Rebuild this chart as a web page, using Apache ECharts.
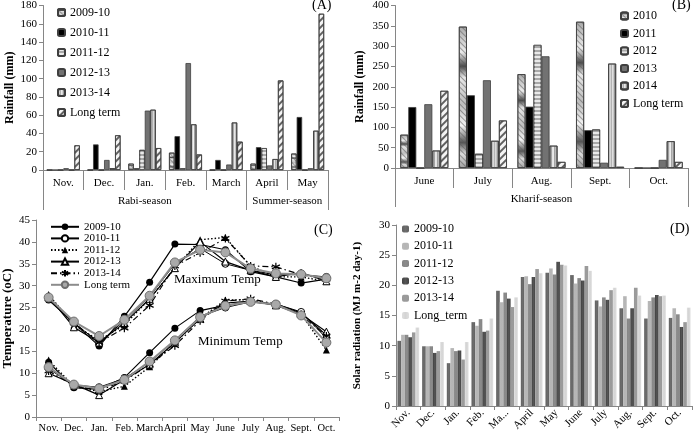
<!DOCTYPE html>
<html><head><meta charset="utf-8">
<script src="https://cdn.jsdelivr.net/npm/echarts@6/dist/echarts.min.js"></script>
<style>html,body{margin:0;padding:0;background:#fff}#c{width:694px;height:434px}</style>
</head><body><div id="c"></div><script>
// ---------- Panel A: rainfall, Rabi & summer ----------
const monthsA = ['Nov.','Dec.','Jan.','Feb.','March','April','May'];
const seasonsA = ['Rabi-season','Summer-season'];
const seasonCentersA = [2.5, 6];
const seasonEdgesA = [0, 5, 7];
const yearsA = ['2009-10','2010-11','2011-12','2012-13','2013-14','Long term'];
const rainA_0910 = [0, 0, 7, 19, 0, 7, 18];
const rainA_1011 = [0, 28, 2, 37, 11, 25, 58];
const rainA_1112 = [0, 0, 22, 2, 0, 24, 0];
const rainA_1213 = [2, 11, 65, 117, 6, 5, 2];
const rainA_1314 = [0, 2, 66, 50, 52, 12, 43];
const rainA_LT   = [27, 38, 24, 17, 31, 98, 171];

// ---------- Panel B: rainfall, Kharif ----------
const monthsB = ['June','July','Aug.','Sept.','Oct.'];
const seasonsB = ['Kharif-season'];
const seasonCentersB = [2.5];
const seasonEdgesB = [0, 5];
const yearsB = ['2010','2011','2012','2013','2014','Long term'];
const rainB_2010 = [82, 348, 231, 360, 0];
const rainB_2011 = [150, 179, 151, 93, 0];
const rainB_2012 = [0, 35, 303, 95, 0];
const rainB_2013 = [157, 216, 275, 13, 20];
const rainB_2014 = [43, 67, 55, 257, 66];
const rainB_LT   = [190, 117, 15, 3, 15];

// ---------- Panel C: temperature ----------
const monthsC = ['Nov.','Dec.','Jan.','Feb.','March','April','May','June','July','Aug.','Sept.','Oct.'];
const yearsC = ['2009-10','2010-11','2011-12','2012-13','2013-14','Long term'];
const maxT_0910 = [26.7, 21.5, 16.2, 23.0, 30.8, 39.5, 39.4, 38.2, 33.2, 32.0, 30.6, 31.5];
const maxT_1011 = [27.0, 21.5, 17.0, 22.0, 27.5, 35.0, 38.5, 35.0, 33.5, 32.5, 32.5, 32.0];
const maxT_1112 = [28.0, 21.0, 17.5, 21.0, 27.0, 34.0, 40.5, 41.0, 34.5, 32.0, 32.0, 31.0];
const maxT_1213 = [27.5, 20.5, 17.0, 21.5, 27.0, 34.0, 40.0, 35.5, 33.5, 32.0, 33.0, 31.0];
const maxT_1314 = [27.0, 21.5, 17.0, 20.3, 25.5, 34.5, 37.5, 40.8, 34.5, 34.3, 32.5, 31.5];
const maxT_LT   = [27.3, 21.8, 18.5, 22.2, 27.7, 35.3, 38.2, 37.6, 33.9, 32.8, 32.6, 31.7];
const minT_0910 = [12.5, 6.7, 6.3, 9.0, 14.7, 20.3, 24.3, 25.5, 26.3, 25.8, 23.8, 18.7];
const minT_1011 = [11.0, 7.3, 6.8, 8.8, 12.5, 17.5, 23.0, 25.0, 26.3, 25.8, 24.0, 18.0];
const minT_1112 = [13.0, 7.0, 5.8, 7.0, 11.5, 17.0, 22.5, 26.7, 26.8, 25.5, 23.5, 15.3];
const minT_1213 = [10.0, 7.5, 5.0, 8.5, 12.0, 17.0, 22.5, 26.0, 26.5, 25.5, 23.5, 19.5];
const minT_1314 = [10.5, 7.2, 6.0, 8.3, 12.0, 16.3, 22.0, 26.5, 27.0, 25.8, 23.3, 18.5];
const minT_LT   = [11.4, 7.4, 6.5, 8.5, 12.7, 17.5, 22.8, 25.4, 26.3, 25.7, 23.2, 17.0];

// ---------- Panel D: solar radiation ----------
const monthsD = ['Nov.','Dec.','Jan.','Feb.','March','April','May','June','July','Aug.','Sept.','Oct.'];
const yearsD = ['2009-10','2010-11','2011-12','2012-13','2013-14','Long_term'];
const srad_0910 = [10.8, 9.9, 7.1, 13.9, 19.1, 21.4, 22.1, 21.7, 17.5, 16.2, 14.5, 14.6];
const srad_1011 = [11.8, 9.9, 9.6, 13.3, 17.2, 21.5, 22.8, 20.3, 16.5, 18.2, 17.4, 16.2];
const srad_1112 = [11.8, 9.9, 9.1, 14.4, 18.8, 20.2, 21.8, 21.2, 18.0, 14.5, 18.0, 15.2];
const srad_1213 = [11.4, 8.8, 9.2, 12.3, 17.8, 21.4, 23.9, 20.8, 17.6, 16.2, 18.4, 13.1];
const srad_1314 = [12.2, 9.1, 7.7, 12.5, 16.4, 22.7, 23.4, 23.2, 19.2, 19.6, 18.2, 13.9];
const srad_LT   = [13.0, 10.6, 10.6, 14.5, 18.0, 22.0, 23.3, 22.4, 19.6, 18.3, 18.3, 16.3];

const FONT = 'Liberation Serif';
const AX = '#868686';
const G = echarts.graphic;

function yAx(gi, max, interval, name, nameGap, nameSize) {
  return {gridIndex: gi, type: 'value', min: 0, max: max, interval: interval,
    name: name, nameLocation: 'middle', nameGap: nameGap,
    nameTextStyle: {fontFamily: FONT, fontWeight: 'bold', fontSize: nameSize, color: '#000'},
    axisLine: {show: true, lineStyle: {color: AX}},
    axisTick: {show: true, length: 4, lineStyle: {color: AX}},
    axisLabel: {fontFamily: FONT, fontSize: 11, color: '#000', margin: 6},
    splitLine: {show: false}};
}
function catAx(gi, data, tickLen, extra) {
  return Object.assign({gridIndex: gi, type: 'category', data: data, boundaryGap: true,
    axisLine: {show: true, lineStyle: {color: AX}},
    axisTick: {show: true, length: tickLen, interval: 0, lineStyle: {color: AX}},
    axisLabel: {fontFamily: FONT, fontSize: 11, color: '#000', margin: 8, interval: 0},
    splitLine: {show: false}}, extra || {});
}
function seasonAx(gi, n, edges, centers, names, off, tickLen) {
  return {gridIndex: gi, type: 'value', position: 'bottom', offset: off, min: 0, max: n,
    axisLine: {show: false}, splitLine: {show: false},
    axisTick: {show: true, length: tickLen, customValues: edges, lineStyle: {color: AX}},
    axisLabel: {show: true, customValues: centers, fontFamily: FONT, fontSize: 11, color: '#000', margin: 6,
      formatter: function (v) { const i = centers.indexOf(v); return i >= 0 ? names[i] : ''; }}};
}

function decal(color, rot, gap, w) {
  return {symbol: 'rect', symbolSize: 1, color: color, dashArrayX: [1, 0], dashArrayY: [w || 1.5, gap || 3], rotation: rot};
}
const metalV = new G.LinearGradient(0, 0, 1, 0, [
  {offset: 0, color: '#9a9a9a'}, {offset: 0.45, color: '#f2f2f2'}, {offset: 1, color: '#8a8a8a'}]);
const metalTex = new G.LinearGradient(0, 0, 0, 1, [
  {offset: 0, color: '#a9a9a9'}, {offset: 0.18, color: '#ececec'}, {offset: 0.28, color: '#4a4a4a'},
  {offset: 0.36, color: '#e6e6e6'}, {offset: 0.55, color: '#bdbdbd'}, {offset: 0.7, color: '#f4f4f4'},
  {offset: 0.82, color: '#555'}, {offset: 0.9, color: '#dcdcdc'}, {offset: 1, color: '#a0a0a0'}]);

const BORDER = {borderColor: '#3f3f3f', borderWidth: 0.8};
const stylesAB = [
  Object.assign({color: metalTex, decal: decal('rgba(90,90,90,0.55)', Math.PI / 4, 3, 1)}, BORDER),
  Object.assign({color: '#000'}, BORDER),
  Object.assign({color: '#a8a8a8', decal: decal('rgba(255,255,255,0.75)', 0, 2, 1.2)}, BORDER),
  Object.assign({color: '#727272'}, BORDER),
  Object.assign({color: metalV, decal: decal('rgba(120,120,120,0.5)', Math.PI / 2, 2, 1)}, BORDER),
  Object.assign({color: '#f4f4f4', decal: decal('rgba(60,60,60,0.8)', -Math.PI / 4, 3, 1.2)}, BORDER)
];

const series = [];
function addBars(prefix, names, arrays, xi, yi, gap, styles) {
  names.forEach(function (n, i) {
    series.push({name: prefix + '|' + n, type: 'bar', xAxisIndex: xi, yAxisIndex: yi, data: arrays[i],
      barGap: '0%', barCategoryGap: gap, itemStyle: styles[i], emphasis: {disabled: true}});
  });
}
addBars('A', yearsA, [rainA_0910, rainA_1011, rainA_1112, rainA_1213, rainA_1314, rainA_LT], 0, 0, '19%', stylesAB);
addBars('B', yearsB, [rainB_2010, rainB_2011, rainB_2012, rainB_2013, rainB_2014, rainB_LT], 2, 1, '18%', stylesAB);

const stylesD = ['#5a5a5a', '#ababab', '#7c7c7c', '#3e3e3e', '#8e8e8e', '#cfcfcf'].map(function (c) {
  return {color: new G.LinearGradient(0, 0, 1, 0, [
    {offset: 0, color: echarts.color.lift(c, -0.08)}, {offset: 0.5, color: echarts.color.lift(c, 0.12)},
    {offset: 1, color: echarts.color.lift(c, -0.08)}])};
});
addBars('D', yearsD, [srad_0910, srad_1011, srad_1112, srad_1213, srad_1314, srad_LT], 5, 3, '12%', stylesD);

const ASTER = 'path://M5,0L5,10M0.67,2.5L9.33,7.5M0.67,7.5L9.33,2.5';
const lineStylesC = [
  {line: {color: '#000', width: 1.2, type: 'solid'}, symbol: 'circle', size: 7, item: {color: '#000'}},
  {line: {color: '#000', width: 1, type: 'solid'}, symbol: 'circle', size: 7, item: {color: '#fff', borderColor: '#000', borderWidth: 1}},
  {line: {color: '#000', width: 1.4, type: [1.5, 2]}, symbol: 'triangle', size: 7, item: {color: '#000'}},
  {line: {color: '#000', width: 1.2, type: 'solid'}, symbol: 'triangle', size: 7, item: {color: '#fff', borderColor: '#000', borderWidth: 1}},
  {line: {color: '#000', width: 1.2, type: [6, 3, 1.5, 3]}, symbol: ASTER, size: 8, item: {color: 'transparent', borderColor: '#000', borderWidth: 1.2}},
  {line: {color: '#8c8c8c', width: 2, type: 'solid'}, symbol: 'circle', size: 9, item: {color: '#a9a9a9', borderColor: '#6f6f6f', borderWidth: 1}}
];
const maxArr = [maxT_0910, maxT_1011, maxT_1112, maxT_1213, maxT_1314, maxT_LT];
const minArr = [minT_0910, minT_1011, minT_1112, minT_1213, minT_1314, minT_LT];
yearsC.forEach(function (n, i) {
  [maxArr[i], minArr[i]].forEach(function (d) {
    const s = lineStylesC[i];
    series.push({name: 'C|' + n, type: 'line', xAxisIndex: 4, yAxisIndex: 2, data: d,
      symbol: s.symbol, symbolSize: s.size, showSymbol: true, lineStyle: s.line, itemStyle: s.item,
      emphasis: {disabled: true}, z: 2 + i});
  });
});

function leg(prefix, names, left, top, iw, ih, lh, gap, fs) {
  return {data: names.map(function (n) { return prefix + '|' + n; }), orient: 'vertical', left: left, top: top,
    itemWidth: iw, itemHeight: ih, itemGap: gap, padding: 0, selectedMode: false,
    formatter: function (n) { return n.split('|')[1]; },
    textStyle: {fontFamily: FONT, fontSize: fs, color: '#000', lineHeight: lh}};
}

const option = {
  animation: false,
  backgroundColor: '#fff',
  grid: [
    {left: 43, top: 4, width: 285, height: 166},
    {left: 395, top: 4, width: 293, height: 164},
    {left: 31, top: 220, width: 308, height: 198},
    {left: 396, top: 225, width: 296, height: 181}
  ],
  xAxis: [
    catAx(0, monthsA, 20),
    seasonAx(0, monthsA.length, seasonEdgesA, seasonCentersA, seasonsA, 20, 20),
    catAx(1, monthsB, 20),
    seasonAx(1, monthsB.length, seasonEdgesB, seasonCentersB, seasonsB, 20, 19),
    catAx(2, monthsC, 4, {axisLabel: {fontFamily: FONT, fontSize: 10.5, color: '#000', margin: 6, interval: 0}}),
    catAx(3, monthsD, 4, {axisLabel: {fontFamily: FONT, fontSize: 11, color: '#000', margin: 5, interval: 0,
      rotate: 45, width: 25, overflow: 'truncate', ellipsis: '...'}})
  ],
  yAxis: [
    yAx(0, 180, 20, 'Rainfall (mm)', 27, 12),
    yAx(1, 400, 50, 'Rainfall (mm)', 29, 12),
    yAx(2, 45, 5, 'Temperature (oC)', 22, 13),
    yAx(3, 30, 5, 'Solar radiation (MJ m-2 day-1)', 33, 11)
  ],
  legend: [
    leg('A', yearsA, 57, 6, 7, 7, 13, 7, 12),
    leg('B', yearsB, 620, 10, 7, 7, 12, 5.5, 12),
    leg('C', yearsC, 50, 221, 28, 8, 11.6, 0, 11),
    leg('D', yearsD, 402, 223, 7, 7, 12, 5.3, 12)
  ],
  title: [
    {text: '(A)', left: 312, top: -2, padding: 0, textStyle: {fontFamily: FONT, fontSize: 14, fontWeight: 'normal', color: '#000'}},
    {text: '(B)', left: 672, top: -2, padding: 0, textStyle: {fontFamily: FONT, fontSize: 14, fontWeight: 'normal', color: '#000'}},
    {text: '(C)', left: 314, top: 223, padding: 0, textStyle: {fontFamily: FONT, fontSize: 14, fontWeight: 'normal', color: '#000'}},
    {text: '(D)', left: 670, top: 222, padding: 0, textStyle: {fontFamily: FONT, fontSize: 14, fontWeight: 'normal', color: '#000'}}
  ],
  graphic: [
    {type: 'text', left: 174, top: 273, style: {text: 'Maximum Temp', fontFamily: FONT, fontSize: 13, fill: '#000'}},
    {type: 'text', left: 198, top: 335, style: {text: 'Minimum Temp', fontFamily: FONT, fontSize: 13, fill: '#000'}}
  ],
  series: series
};
const chart = echarts.init(document.getElementById('c'), null, {renderer: 'canvas'});
chart.setOption(option);
</script></body></html>
